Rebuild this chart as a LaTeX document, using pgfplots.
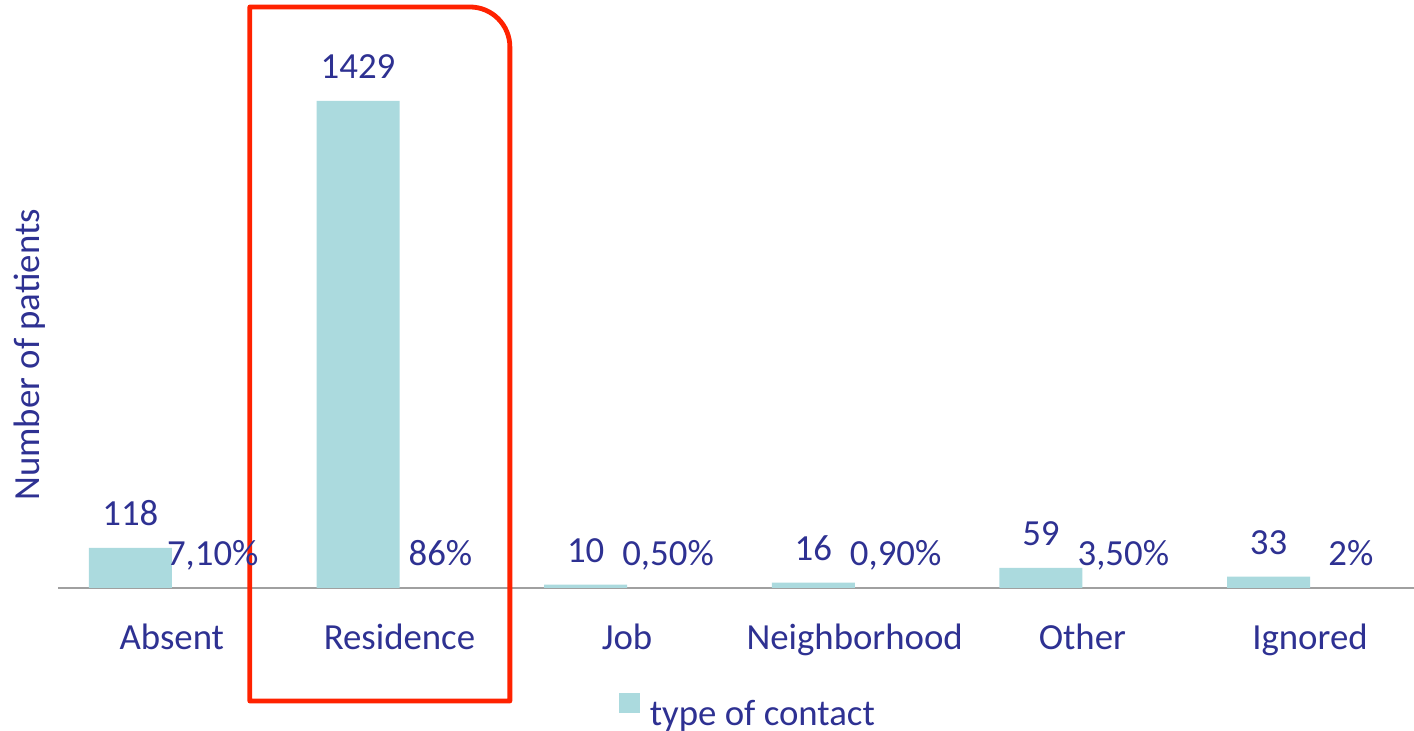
\documentclass[border=0pt]{standalone}
\usepackage{fontspec}
\setmainfont{Carlito}
\usepackage{pgfplots}
\pgfplotsset{compat=1.18}
\definecolor{barcol}{RGB}{171,218,222}
\definecolor{txtcol}{RGB}{46,49,146}
\definecolor{boxred}{RGB}{255,34,0}
\definecolor{axgray}{RGB}{160,160,160}
\begin{document}
\fontsize{18.4}{22}\selectfont
\begin{tikzpicture}
\begin{axis}[
  scale only axis, width=678pt, height=294pt,
  xmin=-0.5, xmax=5.457, ymin=0, ymax=1725.3,
  clip=false,
  axis x line=bottom, axis y line=none,
  x axis line style={-, draw=axgray, line width=1pt},
  xtick={0,...,5},
  xticklabels={Absent,Residence,Job,Neighborhood,Other,Ignored},
  major tick length=0pt,
  xticklabel style={anchor=base, yshift=-31pt, text=txtcol, font=\fontsize{18.4}{22}\selectfont},
  ytick=\empty,
  legend style={at={(axis cs:1.964,-364)}, anchor=west, draw=none, fill=none,
    inner sep=0pt, outer sep=0pt, text=txtcol, font=\fontsize{18.4}{22}\selectfont,
    nodes={inner sep=0pt}, /tikz/every odd column/.append style={column sep=5pt}},
  legend cell align=left,
  legend image code/.code={\fill[barcol] (0pt,1.5pt) rectangle (10.5pt,11.5pt);},
  every node near coord/.append style={anchor=base, yshift=11pt, text=txtcol, font=\fontsize{18.4}{22}\selectfont},
]
\addplot[ybar, bar width=41.5pt, bar shift=0pt, fill=barcol, draw=none,
  nodes near coords, point meta=explicit symbolic]
  table[x=x, y=y, meta=y] {
x y
-0.182 118
0.818 1429
1.818 10
2.818 16
3.818 59
4.818 33
};
\addlegendentry{type of contact}
\addplot[ybar, bar width=41.5pt, bar shift=0pt, fill=none, draw=none, forget plot,
  nodes near coords, point meta=explicit symbolic]
  table[x=x, y=y, meta=lab] {
x y lab
0.18 0.071 7,10\%
1.18 0.86 86\%
2.18 0.005 0,50\%
3.18 0.009 0,90\%
4.18 0.035 3,50\%
5.18 0.02 2\%
};
\node[rotate=90, anchor=base, text=txtcol] at (axis description cs:-0.01327,0.3963) {Number of patients};
\draw[boxred, line width=2.4pt, line join=round]
  (axis cs:0.3427,-331.6) -- (axis cs:0.3427,1704.8)
  -- ([xshift=-20pt]axis cs:1.4851,1704.8)
  arc[start angle=90, end angle=0, radius=20pt]
  -- (axis cs:1.4851,-331.6) -- cycle;
\coordinate (sw) at (rel axis cs:0,0);
\end{axis}
\pgfresetboundingbox
\path[use as bounding box] (sw) ++(-29pt,-71.5pt) rectangle ++(707pt,365.5pt);
\end{tikzpicture}
\end{document}
